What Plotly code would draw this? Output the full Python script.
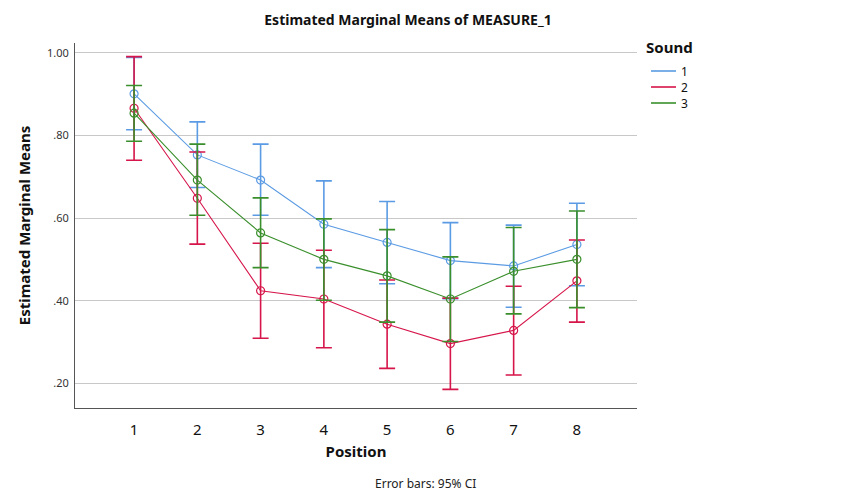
import plotly.graph_objects as go

positions = [1, 2, 3, 4, 5, 6, 7, 8]
series_names = ["1", "2", "3"]

mean_1 = [0.901, 0.753, 0.692, 0.585, 0.541, 0.497, 0.484, 0.536]
upper_1 = [0.989, 0.833, 0.779, 0.690, 0.640, 0.589, 0.583, 0.636]
lower_1 = [0.814, 0.674, 0.607, 0.480, 0.441, 0.405, 0.384, 0.436]

mean_2 = [0.866, 0.648, 0.424, 0.404, 0.343, 0.296, 0.328, 0.448]
upper_2 = [0.991, 0.760, 0.539, 0.522, 0.450, 0.406, 0.435, 0.547]
lower_2 = [0.740, 0.537, 0.309, 0.286, 0.236, 0.185, 0.220, 0.348]

mean_3 = [0.854, 0.692, 0.564, 0.500, 0.460, 0.404, 0.471, 0.500]
upper_3 = [0.921, 0.779, 0.649, 0.598, 0.572, 0.506, 0.577, 0.617]
lower_3 = [0.786, 0.607, 0.480, 0.401, 0.348, 0.301, 0.368, 0.383]

y_tick_vals = [0.2, 0.4, 0.6, 0.8, 1.0]
y_tick_text = [".20", ".40", ".60", ".80", "1.00"]

colors = ["#5b9be3", "#d6154a", "#3a8f2c"]
FONT = "Noto Sans"

means = [mean_1, mean_2, mean_3]
uppers = [upper_1, upper_2, upper_3]
lowers = [lower_1, lower_2, lower_3]

# plot area in pixels
L, R, T, B = 75, 637, 43, 408
W, H = 850, 500


def px_x(px):
    return (px - L) / (R - L)


def px_y(py):
    return (B - py) / (B - T)


fig = go.Figure()
for name, m, u, l, c in zip(series_names, means, uppers, lowers, colors):
    fig.add_trace(go.Scatter(
        x=positions, y=m, mode="lines+markers", name=name, showlegend=False,
        line=dict(color=c, width=1.1),
        marker=dict(symbol="circle-open", size=8, color=c, line=dict(width=1.2)),
        error_y=dict(type="data", symmetric=False,
                     array=[uu - mm for uu, mm in zip(u, m)],
                     arrayminus=[mm - ll for mm, ll in zip(m, l)],
                     color=c, thickness=1.6, width=8),
    ))

fig.update_layout(
    width=W, height=H,
    margin=dict(l=L, r=W - R, t=T, b=H - B, autoexpand=False),
    paper_bgcolor="white", plot_bgcolor="white",
    font=dict(family=FONT, color="#222"),
    showlegend=False,
    title=dict(text="<b>Estimated Marginal Means of MEASURE_1</b>",
               xref="container", x=0.48, xanchor="center",
               yref="container", y=1 - 20 / H, yanchor="middle",
               font=dict(size=14, color="#111", family=FONT)),
)
fig.update_xaxes(
    range=[0.066, 8.95], tickvals=positions, ticktext=[str(p) for p in positions],
    showgrid=False, zeroline=False, showline=True, linecolor="#555", linewidth=1,
    ticks="", tickfont=dict(size=15, color="#111"), ticklabelstandoff=8,
    automargin=False,
    title=dict(text="<b>Position</b>", font=dict(size=15, color="#111"), standoff=8),
)
fig.update_yaxes(
    range=[0.140, 1.024], tickvals=y_tick_vals, ticktext=y_tick_text,
    showgrid=True, gridcolor="#c8c8c8", gridwidth=1, zeroline=False,
    showline=True, linecolor="#555", linewidth=1,
    ticks="", ticklabelstandoff=3,
    tickfont=dict(size=11, color="#333"), automargin=False,
    title=dict(text="<b>Estimated Marginal Means</b>", font=dict(size=15, color="#111"), standoff=12),
)
fig.add_annotation(text="Error bars: 95% CI", xref="paper", yref="paper",
                   x=px_x(425), y=px_y(483), xanchor="center", yanchor="middle",
                   showarrow=False, font=dict(size=12, color="#222"))

# legend drawn manually
fig.add_annotation(text="<b>Sound</b>", xref="paper", yref="paper",
                   x=px_x(644), y=px_y(47), xanchor="left", yanchor="middle",
                   showarrow=False, font=dict(size=15, color="#111"))
legend_rows = [71, 87, 103]
for name, c, py in zip(series_names, colors, legend_rows):
    fig.add_shape(type="line", xref="paper", yref="paper",
                  x0=px_x(651), x1=px_x(676), y0=px_y(py), y1=px_y(py),
                  line=dict(color=c, width=1.6))
    fig.add_annotation(text=name, xref="paper", yref="paper",
                       x=px_x(680), y=px_y(py), xanchor="left", yanchor="middle",
                       showarrow=False, font=dict(size=12, color="#111"),
                       height=14, borderpad=0)

fig.write_html("out.html", config={"displayModeBar": False},
               post_script="document.body.style.margin='0px';")
